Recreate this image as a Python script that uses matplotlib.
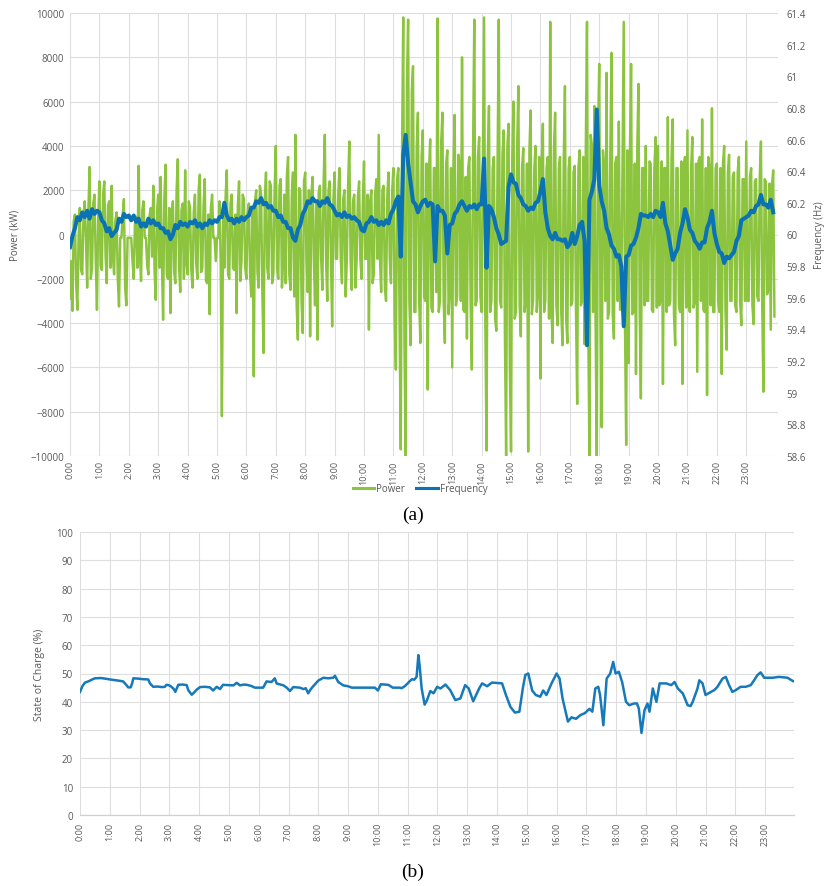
import numpy as np
import matplotlib
matplotlib.use("Agg")
import matplotlib.pyplot as plt
from matplotlib.lines import Line2D

# ---------------- data ----------------
hour_labels = [f"{h}:00" for h in range(24)]

# battery power (kW), 2.5-minute samples starting 0:00 (one row per hour)
power_kw = [
    -2900, -1200, -3450, 600, 900, -2200, -3400, -150, 1200, -1600, -1800, 800, 1500, -150, -2400, 1100, 3050, -2000, -1500, 1400, 1800, -1200, -3400, 700,
    2400, -1400, -1600, 1800, 2400, -900, -2200, 1300, 1500, -1500, 2200, -1000, -1800, 600, 1000, -2000, -3250, -150, -150, 900, 1600, -2400, -3200, -150,
    -150, -150, -150, -1200, -2000, 500, 800, -1500, 3100, -800, -2100, 1100, 1500, -150, -150, -1400, -1800, 900, 1200, -1000, 2200, -1600, -2950, 1000,
    1800, -1500, 2600, -1200, -3850, 1600, 3150, -1800, -2000, 1200, -3550, 900, 1500, -1700, -2200, 2000, 3400, -1400, -2600, 1100, 1400, -2000, 2900, -1300,
    -1800, 1500, 1200, -1600, -2400, 1000, 1800, -1300, -2000, 2000, 2700, -1700, -1500, 1300, 2500, -2100, -2200, 900, -3600, 1200, 1800, -150, -150, -1200,
    -150, -150, 1500, -1300, -8200, 1100, -1500, 1700, 2900, -1800, -2000, 1400, 1800, -1500, -1600, 900, -3550, 1300, 2400, -2100, -1200, 1800, 1600, -1500,
    -2000, 1000, 1400, -1800, -2800, 1200, -6400, 1500, 2000, -1700, -2400, 2200, 1800, -2600, -5350, 1600, 2800, -1500, -2000, 2400, 2200, -2200, -1800, 1900,
    4000, -1500, -2000, 2200, 2500, -2400, -1200, 1800, -2200, 2600, 3500, -1800, -2500, 1700, 2800, -2800, 4500, -3200, -4750, 2100, 2000, -3000, -4450, 2400,
    2800, -1100, -2600, 2000, -4600, 1800, 2600, -1100, -3200, 1500, -4750, 1900, 2200, -1100, -2500, 2300, 4500, -1100, -3000, 2000, 2400, -1100, -4150, 1600,
    2800, -1100, -1100, 1900, 3000, -1100, -2200, 1600, 2000, -2800, -1100, 2200, 4200, -1100, -2500, 1500, 1800, -2400, -1100, 1700, 2400, -1100, -2000, 1400,
    3300, -1100, -1100, 1800, -4300, 1500, 2000, -2200, -1800, 1700, 2500, -1100, 4500, -1100, -2600, 2000, 2200, -2400, -3000, 1800, 2800, -1100, -2200, 2000,
    3000, -3800, -6100, 2500, 3000, -4000, -9700, 3500, 9800, -5000, -10000, 6800, 9700, -3000, -5000, 6500, 7600, -3500, -3500, 4000, 5500, -3000, -4900, 3500,
    4700, -2800, -3000, 3200, -7000, 2800, 4300, -3300, -3500, 3000, 3000, -2600, 9750, -3500, -3000, 4200, 5500, -3000, -4900, 3200, 3800, -3600, -2500, 3000,
    -6000, 3000, 5400, -3200, -2800, 3600, 3200, -3000, 8000, -3400, -3500, 2600, -4700, 3000, 3500, -3000, -6100, 3800, 9700, -3200, -3000, 3500, 4400, -2800,
    -3500, 3200, 9800, -4000, -9750, 3500, 5800, -3500, -3000, 3000, 3500, -3800, -4350, 3200, 9700, -3000, -3300, 3600, 4700, -4500, -10000, 4000, 5000, -6000,
    -9800, 3500, 6000, -3800, -3500, 4000, 6700, -3200, -4600, 3000, 3900, -3500, -3000, 3200, -9800, 3800, 5600, -3600, -3000, 3000, 4000, -3500, -2500, 3500,
    -6500, 3200, 5000, -3500, -3000, 3000, 3500, -3800, 9600, -3500, -4900, 3800, 5500, -3200, -4100, 3000, 3500, -3500, -5000, 3300, 6700, -3800, -4900, 3000,
    3500, -3200, -3000, 2800, 3100, -3400, -7650, 3000, 3800, -3200, -3000, 3500, -4950, 3800, 9600, -4000, -10000, 4500, 4000, -3500, 5800, -4000, -10000, 4500,
    7700, -3500, -8700, 3800, 3000, -3000, 7300, -3800, -3500, 3500, 8200, -3600, -4700, 3200, 3500, -3000, 5100, -3400, -3000, 3500, 9600, -4000, -9500, 3800,
    -5800, 3500, 7700, -3600, -3500, 3200, -6300, 3800, 6800, -3500, -7400, 3000, 3000, -3200, 4000, -3000, -3000, 3300, 3200, -3400, -3500, 3000, 4400, -3300,
    4000, -3200, -3000, 3300, -6750, 3000, 3000, -3500, 5300, -3200, -3000, 3500, 5200, -3600, -5000, 3000, 3000, -3200, -3500, 3300, -6750, 3000, 3500, -3300,
    4700, -3200, -3500, 3000, 4400, -3300, -3000, 3200, -6200, 3300, 3500, -3000, 5200, -3400, -3500, 3000, -7250, 3500, 3000, -3200, 5700, -3500, -3500, 3000,
    3200, -3000, -3500, 3000, -6300, 3200, 4000, -3400, -5200, 2800, 3600, -3000, -3000, 2600, 2800, -3200, -3500, 2800, 3500, -3000, -4100, 2500, 2500, -3000,
    4200, -3000, -3000, 2600, 3000, -3200, -4050, 2400, 2500, -2800, -3000, 2600, 4200, -3000, -7100, 2500, 2400, -2700, -2500, 2300, -4300, 2200, 2900, -3700,
]

# grid frequency (Hz), 5-minute samples starting 0:00 (one row per hour)
freq_hz = [
    59.92, 59.99, 60.04, 60.11, 60.09, 60.14, 60.11, 60.15, 60.10, 60.16, 60.13, 60.15,
    60.14, 60.09, 60.07, 60.02, 60.04, 59.99, 60.01, 60.03, 60.10, 60.08, 60.13, 60.11,
    60.12, 60.09, 60.12, 60.08, 60.10, 60.05, 60.07, 60.05, 60.10, 60.07, 60.09, 60.06,
    60.07, 60.04, 60.04, 60.01, 60.02, 59.97, 60.00, 60.06, 60.04, 60.08, 60.06, 60.07,
    60.05, 60.08, 60.07, 60.09, 60.05, 60.07, 60.04, 60.07, 60.06, 60.09, 60.07, 60.09,
    60.08, 60.11, 60.11, 60.20, 60.12, 60.09, 60.10, 60.07, 60.10, 60.08, 60.11, 60.09,
    60.11, 60.12, 60.17, 60.17, 60.21, 60.20, 60.23, 60.19, 60.20, 60.17, 60.18, 60.15,
    60.15, 60.11, 60.12, 60.08, 60.08, 60.04, 60.04, 59.98, 59.96, 60.03, 60.06, 60.13,
    60.16, 60.21, 60.20, 60.23, 60.21, 60.21, 60.18, 60.21, 60.20, 60.23, 60.19, 60.18,
    60.15, 60.12, 60.13, 60.11, 60.14, 60.11, 60.12, 60.10, 60.11, 60.09, 60.08, 60.03,
    60.02, 60.07, 60.08, 60.11, 60.08, 60.09, 60.06, 60.08, 60.06, 60.09, 60.07, 60.13,
    60.16, 60.21, 60.24, 59.86, 60.50, 60.63, 60.45, 60.33, 60.21, 60.19, 60.14, 60.18,
    60.21, 60.22, 60.18, 60.20, 60.19, 59.83, 60.18, 60.15, 60.15, 60.12, 59.88, 60.06,
    60.07, 60.13, 60.15, 60.19, 60.21, 60.18, 60.15, 60.18, 60.17, 60.19, 60.16, 60.19,
    60.19, 60.48, 59.79, 60.18, 60.16, 60.11, 60.04, 60.00, 59.94, 59.95, 59.96, 60.30,
    60.38, 60.33, 60.32, 60.25, 60.23, 60.19, 60.18, 60.15, 60.17, 60.16, 60.20, 60.21,
    60.27, 60.35, 60.14, 60.04, 59.99, 59.97, 60.01, 59.97, 59.97, 59.96, 59.97, 59.92,
    59.94, 60.01, 59.94, 59.99, 60.06, 60.08, 59.96, 59.30, 60.22, 60.27, 60.35, 60.79,
    60.31, 60.21, 60.15, 60.04, 60.00, 59.93, 59.91, 59.86, 59.87, 59.80, 59.42, 59.86,
    59.87, 59.93, 59.94, 59.98, 60.04, 60.13, 60.12, 60.12, 60.11, 60.13, 60.11, 60.15,
    60.14, 60.11, 60.20, 60.07, 60.02, 59.93, 59.84, 59.88, 59.91, 60.01, 60.07, 60.16,
    60.11, 60.03, 60.01, 59.96, 59.94, 59.91, 59.95, 59.95, 60.04, 60.08, 60.15, 60.01,
    59.94, 59.89, 59.88, 59.82, 59.86, 59.85, 59.87, 59.89, 59.96, 59.99, 60.09, 60.10,
    60.11, 60.12, 60.15, 60.14, 60.18, 60.19, 60.25, 60.19, 60.19, 60.17, 60.22, 60.14,
]

# battery state of charge (%)
soc_time_h = [
    0.0, 0.08, 0.17, 0.3, 0.39, 0.5, 0.7, 0.9, 1.0, 1.15, 1.28, 1.45, 1.55, 1.62, 1.7,
    1.75, 1.79, 1.95, 2.1, 2.29, 2.35, 2.46, 2.6, 2.75, 2.85, 2.9, 3.0, 3.07, 3.15, 3.2,
    3.3, 3.45, 3.58, 3.64, 3.75, 3.85, 3.92, 4.03, 4.2, 4.36, 4.47, 4.59, 4.7, 4.8, 5.0,
    5.15, 5.26, 5.37, 5.5, 5.6, 5.75, 5.87, 6.15, 6.2, 6.26, 6.43, 6.54, 6.6, 6.66, 6.83,
    6.94, 7.05, 7.16, 7.38, 7.5, 7.58, 7.66, 7.75, 7.83, 8.0, 8.17, 8.33, 8.5, 8.56, 8.62,
    8.67, 8.84, 9.0, 9.12, 9.5, 9.9, 10.0, 10.1, 10.35, 10.5, 10.74, 10.8, 10.9, 11.0,
    11.09, 11.15, 11.22, 11.3, 11.36, 11.4, 11.47, 11.57, 11.65, 11.76, 11.87, 11.99,
    12.1, 12.27, 12.43, 12.6, 12.77, 12.93, 13.05, 13.2, 13.4, 13.5, 13.67, 13.83, 14.17,
    14.3, 14.45, 14.6, 14.75, 14.87, 14.95, 15.05, 15.18, 15.3, 15.45, 15.55, 15.66,
    15.83, 16.0, 16.1, 16.2, 16.38, 16.5, 16.65, 16.8, 16.95, 17.1, 17.2, 17.3, 17.4,
    17.46, 17.57, 17.68, 17.8, 17.9, 17.98, 18.09, 18.2, 18.33, 18.44, 18.6, 18.7, 18.76,
    18.85, 18.95, 19.05, 19.12, 19.23, 19.35, 19.46, 19.68, 19.85, 19.96, 20.07, 20.24,
    20.4, 20.5, 20.57, 20.73, 20.79, 20.9, 21.0, 21.18, 21.29, 21.4, 21.57, 21.68, 21.79,
    21.9, 22.01, 22.18, 22.35, 22.52, 22.63, 22.74, 22.85, 22.97, 23.25, 23.47, 23.75, 23.94,
]
soc_pct = [
    43.5, 45.5, 46.8, 47.3, 47.8, 48.3, 48.4, 48.1, 47.9, 47.7, 47.5, 47.2, 46.0, 45.1, 45.1,
    46.5, 48.3, 48.2, 48.0, 47.9, 46.5, 45.3, 45.4, 45.2, 45.3, 46.0, 45.8, 45.3, 44.5, 43.5,
    46.0, 46.1, 45.9, 44.0, 42.5, 43.5, 44.3, 45.2, 45.3, 45.1, 44.0, 45.3, 44.5, 46.0, 45.9,
    45.8, 46.7, 45.8, 46.1, 46.0, 45.6, 45.0, 45.0, 46.0, 47.2, 47.0, 48.3, 46.5, 46.3, 45.8,
    45.0, 43.8, 45.2, 45.0, 44.5, 44.8, 43.0, 44.5, 45.5, 47.5, 48.5, 48.3, 48.5, 49.2, 48.0,
    47.0, 45.8, 45.5, 45.0, 45.0, 45.0, 44.0, 46.2, 46.0, 45.0, 45.0, 44.8, 45.5, 46.5,
    47.5, 48.0, 47.8, 48.8, 56.5, 53.0, 44.7, 39.0, 40.6, 43.8, 43.0, 45.3,
    44.7, 46.1, 44.1, 40.6, 41.2, 45.9, 44.7, 40.2, 44.7, 46.5, 45.5, 46.8, 46.5,
    42.4, 38.2, 36.2, 36.5, 45.0, 49.5, 50.0, 44.0, 42.4, 41.8, 44.0, 42.4,
    46.5, 50.0, 48.2, 41.2, 33.0, 34.5, 34.0, 35.3, 36.0, 37.5, 36.5, 44.7, 45.3,
    42.4, 31.7, 48.2, 50.0, 54.1, 50.0, 50.6, 47.0, 40.0, 38.8, 39.4, 39.4, 37.6,
    29.0, 37.0, 39.4, 36.5, 44.7, 40.0, 46.5, 46.5, 45.9, 47.0, 44.7, 42.9,
    38.8, 38.5, 40.0, 44.7, 47.6, 46.5, 42.4, 43.5, 44.1, 45.3, 48.2, 48.8, 45.9,
    43.5, 44.1, 45.3, 45.3, 45.9, 47.6, 49.4, 50.4, 48.5, 48.5, 48.8, 48.5, 47.3,
]

# ---------------- style ----------------
GREEN = "#8cc43f"
BLUE = "#0b72b4"
SOC_BLUE = "#1679b9"
GRID = "#dedede"
TXT = "#595959"
plt.rcParams["font.family"] = ["Open Sans", "DejaVu Sans"]

fig = plt.figure(figsize=(8.25, 8.87), dpi=100)

# ---------------- panel (a) ----------------
ax = fig.add_axes([70 / 825, 1 - 457 / 887, 708 / 825, 443 / 887])
t_power = np.arange(len(power_kw)) / 24.0
ax.plot(t_power, power_kw, color=GREEN, lw=1.75)
ax.set_ylim(-10000, 10000)
ax.set_xlim(0, 24.08)
ax.set_yticks(np.arange(-10000, 10001, 2000))
ax.set_xticks(np.arange(24))
ax.set_xticklabels(hour_labels, rotation=90)
ax.grid(True, color=GRID, lw=0.8)
ax.set_axisbelow(True)
ax.tick_params(length=0, labelsize=6.5, colors=TXT, pad=3)
ax.tick_params(axis="y", labelsize=7, pad=4)
for s in ax.spines.values():
    s.set_visible(False)
ax.set_ylabel("Power (kW)", fontsize=7, color=TXT, labelpad=7)

ax2 = ax.twinx()
t_freq = np.arange(len(freq_hz)) / 12.0
ax2.plot(t_freq, freq_hz, color=BLUE, lw=2.9)
freq_ticks = np.round(np.arange(58.6, 61.41, 0.2), 1)
ax2.set_ylim(58.6, 61.4)
ax2.set_yticks(freq_ticks)
ax2.set_yticklabels([f"{v:g}" for v in freq_ticks])
ax2.tick_params(length=0, labelsize=7, colors=TXT, pad=6)
for s in ax2.spines.values():
    s.set_visible(False)
ax2.set_ylabel("Frequency (Hz)", fontsize=7, color=TXT, labelpad=6)

handles = [Line2D([], [], color=GREEN, lw=2.2), Line2D([], [], color=BLUE, lw=2.2)]
fig.legend(handles, ["Power", "Frequency"], loc="center", bbox_to_anchor=(420 / 825, 1 - 490 / 887),
           ncol=2, frameon=False, fontsize=7, labelcolor=TXT, handlelength=2.2,
           handletextpad=0.2, columnspacing=1.2)

fig.text(413 / 825, 1 - 515 / 887, "(a)", ha="center", va="center",
         fontsize=14, family=["Liberation Serif", "DejaVu Serif"])

# ---------------- panel (b) ----------------
bx = fig.add_axes([80 / 825, 1 - 816 / 887, 714 / 825, 283 / 887])
bx.plot(soc_time_h, soc_pct, color=SOC_BLUE, lw=1.8)
bx.set_ylim(0, 100)
bx.set_xlim(0, 23.97)
bx.set_yticks(np.arange(0, 101, 10))
bx.set_xticks(np.arange(24))
bx.set_xticklabels(hour_labels, rotation=90)
bx.grid(True, color=GRID, lw=0.8)
bx.set_axisbelow(True)
bx.tick_params(length=0, labelsize=6.5, colors=TXT, pad=5)
bx.tick_params(axis="y", labelsize=7)
for k, s in bx.spines.items():
    if k == "bottom":
        s.set_color("#cfcfcf")
        s.set_linewidth(0.9)
    else:
        s.set_visible(False)
bx.set_ylabel("State of Charge (%)", fontsize=7.5, color=TXT, labelpad=8)

fig.text(413 / 825, 1 - 872 / 887, "(b)", ha="center", va="center",
         fontsize=14, family=["Liberation Serif", "DejaVu Serif"])

fig.savefig("out.png", dpi=100)
